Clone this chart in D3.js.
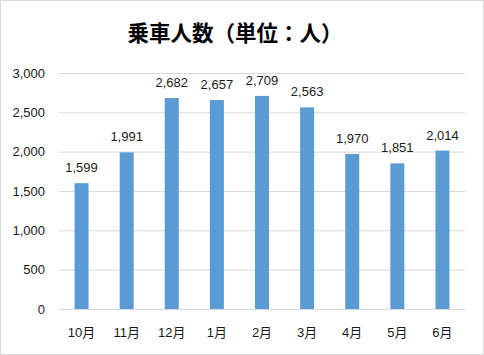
<!DOCTYPE html>
<html><head><meta charset="utf-8">
<script src="https://cdn.jsdelivr.net/npm/d3@7"></script>
<style>
html,body{margin:0;padding:0;background:#fff;}
svg{display:block;}
</style></head>
<body>
<svg id="chart" width="484" height="355"></svg>
<script>
const categories = ["10月","11月","12月","1月","2月","3月","4月","5月","6月"];
const values = [1599,1991,2682,2657,2709,2563,1970,1851,2014];
const yTicks = [0,500,1000,1500,2000,2500,3000];
const title = "乗車人数（単位：人）";

(function(){
const W = 484, H = 355;
const svg = d3.select("#chart");
const font = "'Liberation Sans', Arial, 'Noto Sans CJK JP', sans-serif";
const txt = "#1a1a1a";

svg.append("rect").attr("x",0.5).attr("y",0.5).attr("width",W-1).attr("height",H-1)
  .attr("fill","#fff").attr("stroke","#d9d9d9");

const mLeft = 59, mRight = 465, mTop = 73, mBottom = 309;
const x = d3.scaleBand().domain(categories).range([mLeft,mRight]).paddingInner(0.69).paddingOuter(0.345);
const y = d3.scaleLinear().domain([0,3000]).range([mBottom,mTop]);

svg.append("text").attr("x",235).attr("y",41).attr("text-anchor","middle")
  .attr("font-family","'Noto Sans CJK JP', sans-serif").attr("font-weight","bold")
  .attr("font-size",21.5).attr("fill","#000").text(title);

const yAxis = d3.axisLeft(y).tickValues(yTicks).tickSize(-(mRight-mLeft)).tickFormat(d3.format(",")).tickPadding(14);
const gy = svg.append("g").attr("transform",`translate(${mLeft},0)`).call(yAxis);
gy.select(".domain").remove();
gy.selectAll(".tick line").attr("stroke","#d9d9d9");
gy.selectAll(".tick text").attr("font-family",font).attr("font-size",13).attr("fill",txt);

const xAxis = d3.axisBottom(x).tickSize(0).tickPadding(19);
const gx = svg.append("g").attr("transform",`translate(0,${mBottom})`).call(xAxis);
gx.select(".domain").attr("stroke","#d9d9d9");
gx.selectAll(".tick text").attr("font-family",font).attr("font-size",13).attr("fill",txt);

svg.append("g").selectAll("rect").data(values).join("rect")
  .attr("x",(d,i)=>x(categories[i])).attr("width",x.bandwidth())
  .attr("y",d=>y(d)).attr("height",d=>mBottom-y(d)).attr("fill","#5b9bd5");

svg.append("g").selectAll("text").data(values).join("text")
  .attr("x",(d,i)=>x(categories[i])+x.bandwidth()/2).attr("y",d=>y(d)-11)
  .attr("text-anchor","middle").attr("font-family",font).attr("font-size",13).attr("fill",txt)
  .text(d=>d3.format(",")(d));
})();
</script>
</body></html>
